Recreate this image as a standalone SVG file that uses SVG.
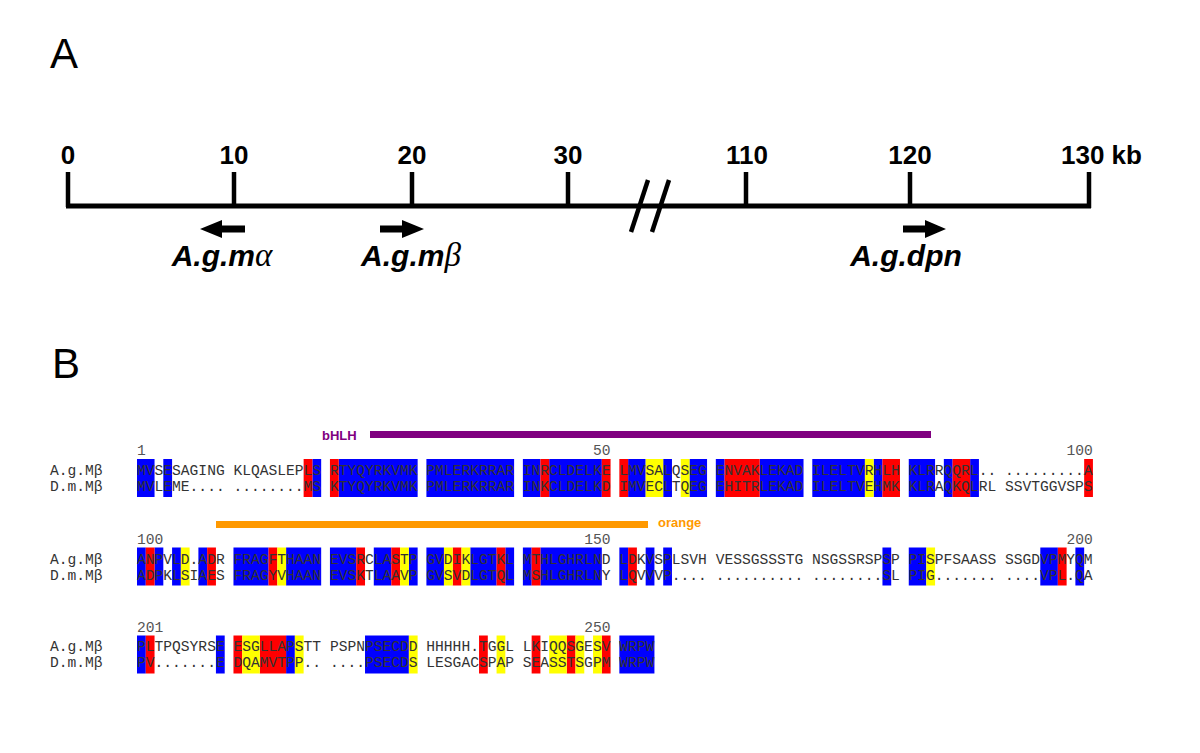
<svg xmlns="http://www.w3.org/2000/svg" width="1200" height="753" viewBox="0 0 1200 753">
<style>
.big{font-family:"Liberation Sans",Arial,sans-serif;font-size:42px;fill:#000}
.sc{font-family:"Liberation Sans",Arial,sans-serif;font-size:26px;font-weight:bold;fill:#000}
.gl{font-family:"Liberation Sans",Arial,sans-serif;font-size:30px;font-weight:bold;font-style:italic;fill:#000}
.gr{font-family:"Liberation Serif","Times New Roman",serif;font-weight:normal;font-style:italic;font-size:33px}
.ln{stroke:#000;stroke-width:5;fill:none}
.tk{stroke:#000;stroke-width:4.5;fill:none}
.seq{font-family:"Liberation Mono","Courier New",monospace;font-size:14.62px;fill:#333}
.num{font-family:"Liberation Mono","Courier New",monospace;font-size:14.62px;fill:#555}
.b{fill:#0000ff}.r{fill:#ff0000}.y{fill:#ffff00}
.dom{font-family:"Liberation Sans",Arial,sans-serif;font-size:13px;font-weight:bold}
</style>

<text class="big" x="50" y="68">A</text>
<text class="big" x="52" y="378">B</text>

<g id="scale">
<line class="ln" x1="66" y1="206" x2="1091" y2="206"/>
<line class="tk" x1="68" y1="172" x2="68" y2="207"/>
<line class="tk" x1="234" y1="172" x2="234" y2="207"/>
<line class="tk" x1="412" y1="172" x2="412" y2="207"/>
<line class="tk" x1="568" y1="172" x2="568" y2="207"/>
<line class="tk" x1="746" y1="172" x2="746" y2="207"/>
<line class="tk" x1="910" y1="172" x2="910" y2="207"/>
<line class="tk" x1="1089" y1="172" x2="1089" y2="208"/>
<line class="tk" x1="631" y1="232" x2="648" y2="180"/>
<line class="tk" x1="652" y1="232" x2="669" y2="180"/>
<text class="sc" x="68" y="164" text-anchor="middle">0</text>
<text class="sc" x="234" y="164" text-anchor="middle">10</text>
<text class="sc" x="412" y="164" text-anchor="middle">20</text>
<text class="sc" x="568" y="164" text-anchor="middle">30</text>
<text class="sc" x="747" y="164" text-anchor="middle">110</text>
<text class="sc" x="910" y="164" text-anchor="middle">120</text>
<text class="sc" x="1061" y="164">130 kb</text>
</g>

<g id="gene-ma">
<polygon points="200,229 222,220 222,225.5 245,225.5 245,232.5 222,232.5 222,238"/>
<text class="gl" x="222" y="266" text-anchor="middle">A.g.m<tspan class="gr">α</tspan></text>
</g>
<g id="gene-mb">
<polygon points="424,229 402,220 402,225.5 380,225.5 380,232.5 402,232.5 402,238"/>
<text class="gl" x="411" y="266" text-anchor="middle">A.g.m<tspan class="gr">β</tspan></text>
</g>
<g id="gene-dpn">
<polygon points="946,229 925,220 925,225.5 903,225.5 903,232.5 925,232.5 925,238"/>
<text class="gl" x="906" y="266" text-anchor="middle">A.g.dpn</text>
</g>

<g id="bhlh">
<text class="dom" x="322" y="440" fill="#800080">bHLH</text>
<rect x="370" y="431" width="561" height="7" fill="#800080"/>
</g>
<g id="orange">
<rect x="216" y="521" width="432" height="7" fill="#ff9900"/>
<text class="dom" x="658" y="527" fill="#ff9900">orange</text>
</g>

<g id="row1">
<g transform="translate(137,459) scale(8.77,1)">
<rect class="b" x="0" width="2" height="38"/><rect class="b" x="3" width="1" height="38"/><rect class="b" x="20" width="1" height="38"/><rect class="b" x="23" width="9" height="38"/><rect class="b" x="33" width="10" height="38"/><rect class="b" x="44" width="2" height="38"/><rect class="b" x="47" width="6" height="38"/><rect class="b" x="56" width="2" height="38"/><rect class="b" x="60" width="1" height="38"/><rect class="b" x="63" width="2" height="38"/><rect class="b" x="66" width="1" height="38"/><rect class="b" x="71" width="5" height="38"/><rect class="b" x="77" width="6" height="38"/><rect class="b" x="84" width="1" height="38"/><rect class="b" x="88" width="3" height="38"/><rect class="b" x="92" width="1" height="38"/><rect class="b" x="95" width="1" height="38"/>
<rect class="r" x="19" width="1" height="38"/><rect class="r" x="22" width="1" height="38"/><rect class="r" x="46" width="1" height="38"/><rect class="r" x="53" width="1" height="38"/><rect class="r" x="55" width="1" height="38"/><rect class="r" x="67" width="4" height="38"/><rect class="r" x="85" width="2" height="38"/><rect class="r" x="93" width="2" height="38"/><rect class="r" x="108" width="1" height="38"/>
<rect class="y" x="58" width="2" height="38"/><rect class="y" x="62" width="1" height="38"/><rect class="y" x="83" width="1" height="38"/>
</g>
<text class="num" x="137" y="455">1</text>
<text class="num" x="610.6" y="455" text-anchor="end">50</text>
<text class="num" x="1092.9" y="455" text-anchor="end">100</text>
<text class="seq" x="50" y="475">A.g.Mβ</text>
<text class="seq" x="50" y="491">D.m.Mβ</text>
<text class="seq" x="137" y="475">MVSESAGING KLQASLEPLS RTYQYRKVMK PMLERKRRAR INRCLDELKE LMVSALQSEG ENVAKLEKAD ILELTVRHLH KLRRQQRL.. .........A</text>
<text class="seq" x="137" y="491">MVLEME.... ........MS KTYQYRKVMK PMLERKRRAR INKCLDELKD IMVECLTQEG EHITRLEKAD ILELTVEHMK KLRAQKQLRL SSVTGGVSPS</text>
</g>

<g id="row2">
<g transform="translate(137,547.5) scale(8.77,1)">
<rect class="b" x="0" width="1" height="38"/><rect class="b" x="2" width="1" height="38"/><rect class="b" x="4" width="1" height="38"/><rect class="b" x="7" width="1" height="38"/><rect class="b" x="11" width="4" height="38"/><rect class="b" x="17" width="4" height="38"/><rect class="b" x="22" width="3" height="38"/><rect class="b" x="27" width="2" height="38"/><rect class="b" x="31" width="1" height="38"/><rect class="b" x="33" width="2" height="38"/><rect class="b" x="38" width="3" height="38"/><rect class="b" x="42" width="1" height="38"/><rect class="b" x="44" width="1" height="38"/><rect class="b" x="46" width="7" height="38"/><rect class="b" x="55" width="1" height="38"/><rect class="b" x="58" width="1" height="38"/><rect class="b" x="60" width="1" height="38"/><rect class="b" x="85" width="1" height="38"/><rect class="b" x="88" width="2" height="38"/><rect class="b" x="103" width="2" height="38"/><rect class="b" x="107" width="1" height="38"/>
<rect class="r" x="1" width="1" height="38"/><rect class="r" x="8" width="1" height="38"/><rect class="r" x="15" width="1" height="38"/><rect class="r" x="25" width="1" height="38"/><rect class="r" x="29" width="1" height="38"/><rect class="r" x="36" width="1" height="38"/><rect class="r" x="41" width="1" height="38"/><rect class="r" x="45" width="1" height="38"/><rect class="r" x="56" width="1" height="38"/><rect class="r" x="105" width="1" height="38"/>
<rect class="y" x="5" width="1" height="38"/><rect class="y" x="16" width="1" height="38"/><rect class="y" x="30" width="1" height="38"/><rect class="y" x="35" width="1" height="38"/><rect class="y" x="37" width="1" height="38"/><rect class="y" x="90" width="1" height="38"/>
</g>
<text class="num" x="137" y="543.5">100</text>
<text class="num" x="610.6" y="543.5" text-anchor="end">150</text>
<text class="num" x="1092.9" y="543.5" text-anchor="end">200</text>
<text class="seq" x="50" y="563.5">A.g.Mβ</text>
<text class="seq" x="50" y="579.5">D.m.Mβ</text>
<text class="seq" x="137" y="563.5">ANPVLD.ADR FRAGFTHAAN EVSRCLASTP GVDIKLGTKL MTHLGHRLND LDKVSPLSVH VESSGSSSTG NSGSSRSPSP PISPFSAASS SSGDVPMYQM</text>
<text class="seq" x="137" y="579.5">ADPKLSIAES FRAGYVHAAN EVSKTLAAVP GVSVDLGTQL MSHLGHRLNY LQVVVP.... .......... ........SL PIG....... ....VPL.QA</text>
</g>

<g id="row3">
<g transform="translate(137,635.5) scale(8.77,1)">
<rect class="b" x="0" width="1" height="38"/><rect class="b" x="9" width="1" height="38"/><rect class="b" x="17" width="1" height="38"/><rect class="b" x="26" width="5" height="38"/><rect class="b" x="55" width="4" height="38"/>
<rect class="r" x="1" width="1" height="38"/><rect class="r" x="11" width="1" height="38"/><rect class="r" x="14" width="3" height="38"/><rect class="r" x="39" width="1" height="38"/><rect class="r" x="45" width="1" height="38"/><rect class="r" x="49" width="1" height="38"/><rect class="r" x="53" width="1" height="38"/>
<rect class="y" x="12" width="2" height="38"/><rect class="y" x="18" width="1" height="38"/><rect class="y" x="31" width="1" height="38"/><rect class="y" x="41" width="1" height="38"/><rect class="y" x="47" width="2" height="38"/><rect class="y" x="50" width="1" height="38"/><rect class="y" x="52" width="1" height="38"/>
</g>
<text class="num" x="137" y="631.5">201</text>
<text class="num" x="610.6" y="631.5" text-anchor="end">250</text>
<text class="seq" x="50" y="651">A.g.Mβ</text>
<text class="seq" x="50" y="667">D.m.Mβ</text>
<text class="seq" x="137" y="651">PLTPQSYRSE ESGLLAPSTT PSPNPSECDD HHHHH.TGGL LKIQQSGESV WRPW</text>
<text class="seq" x="137" y="667">PV.......E DQAMVTPP.. ....PSECDS LESGACSPAP SEASSTSGPM WRPW</text>
</g>
</svg>
